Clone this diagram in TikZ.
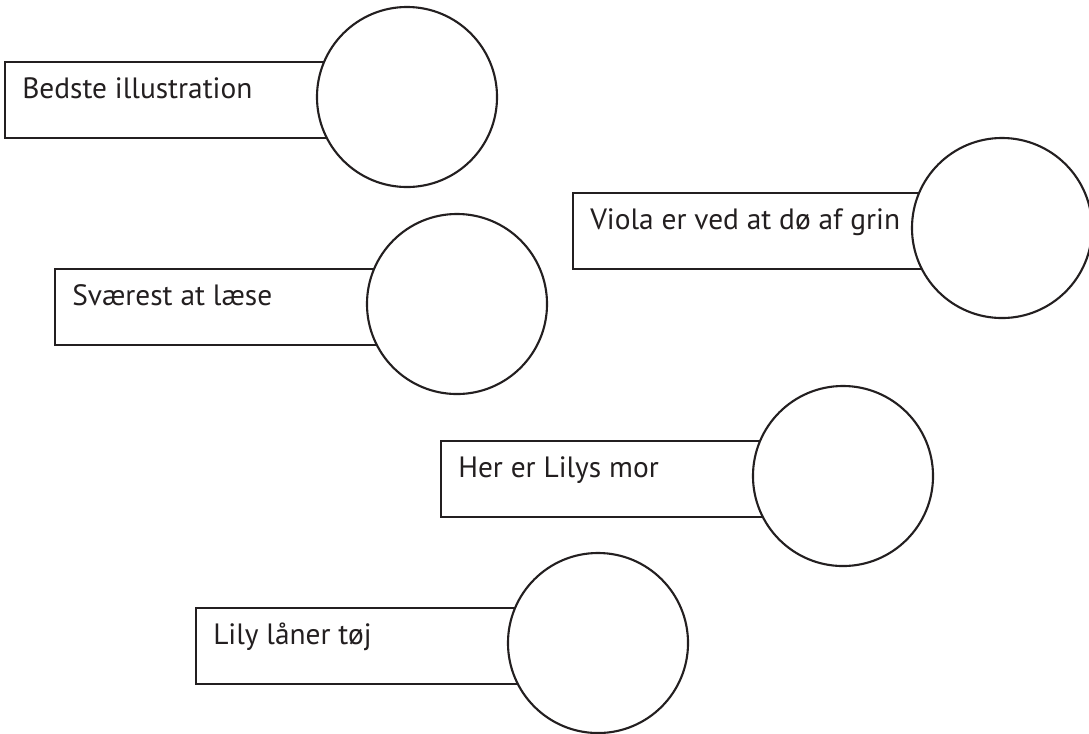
\documentclass[tikz,border=0pt]{standalone}
\usepackage{fontspec}
\setmainfont{PT Sans}
\usepackage{tikz}
\definecolor{ink}{RGB}{35,31,32}

\tikzset{
    bar/.style={draw=ink, line width=1.5pt, fill=white},
    disc/.style={circle, draw=ink, line width=1.5pt, fill=white, minimum size=4.5cm, inner sep=0pt},
    caption/.style={anchor=base west, inner sep=0pt, text=ink, font=\fontsize{20.9}{24}\selectfont}
}

\begin{document}
\begin{tikzpicture}[x=0.025cm, y=-0.025cm]
    \useasboundingbox (0, 0) rectangle (1089, 733);

    % Bars, discs and captions
    \foreach \cx/\cy/\lx/\txt [count=\i] in {
        407/97/5/Bedste illustration,
        1002/228/573/Viola er ved at dø af grin,
        457/304/55/Sværest at læse,
        843/476/441/Her er Lilys mor,
        598/643/196/Lily låner tøj} {
        \draw[bar] (\lx, \cy-35) rectangle (\cx, \cy+41);
        \node[disc] (disc\i) at (\cx, \cy) {};
        \node[caption] (label\i) at (\lx+17, \cy+1.5) {\txt};
    }
\end{tikzpicture}
\end{document}
